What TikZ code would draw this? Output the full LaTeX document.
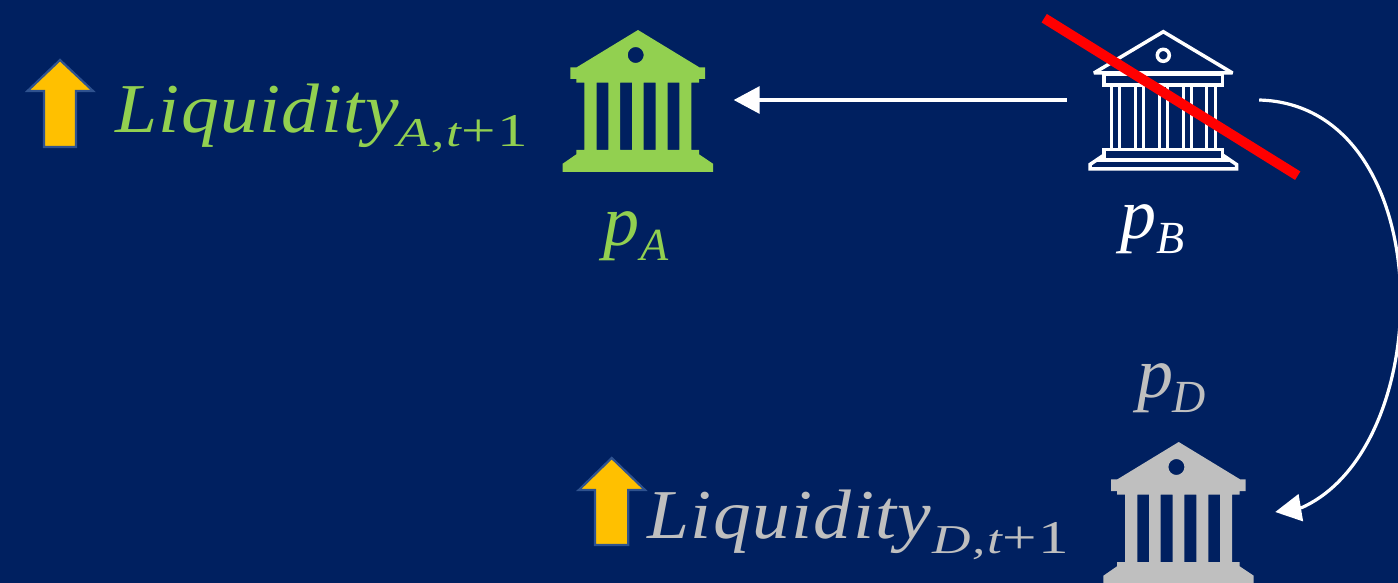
\documentclass[tikz,border=0pt]{standalone}
\usepackage{fontspec}
\setmainfont{Liberation Serif}
\newfontfamily\mainfam[FakeStretch=1.08,LetterSpace=2]{Liberation Serif}
\newfontfamily\subfam[FakeStretch=1.3,LetterSpace=4]{Liberation Serif}
\usetikzlibrary{arrows.meta}
\definecolor{navy}{HTML}{002060}
\definecolor{leaf}{HTML}{92D050}
\definecolor{ash}{HTML}{BFBFBF}
\definecolor{gold}{HTML}{FFC000}
\definecolor{goldedge}{HTML}{2F528F}
\newcommand{\solidbank}{%
  \fill[even odd rule]
    (0,0) -- (61.3,37.3) -- (67,37.3) -- (67,49) -- (61,49) -- (61,52.7) -- (53.3,52.7) -- (53.3,120)
    -- (61,120) -- (61,124.3) -- (75,133.7) -- (75,142) -- (-75.3,142) -- (-75.3,133.7)
    -- (-61.7,124.3) -- (-61.7,120) -- (-53.7,120) -- (-53.7,52.7) -- (-61.7,52.7)
    -- (-61.7,49) -- (-67.7,49) -- (-67.7,37.3) -- (-61.3,37.3) -- cycle
    (-2.3,25) circle[radius=8]
    (-41.3,52.7) rectangle (-29.7,120)
    (-18,52.7) rectangle (-6,120)
    (5.7,52.7) rectangle (17.7,120)
    (29.7,52.7) rectangle (41.3,120);}
\newcommand{\bigsum}{{\fontsize{47}{47}\selectfont +1}}
\tikzset{
  hub/.style={inner sep=0pt,minimum height=4pt},
  flow/.style={white,line width=3.2pt,line join=round,-{Triangle[length=26pt,width=27pt]}},
  uparrow/.style={fill=gold,draw=goldedge,line width=2.2pt,miter limit=10},
  mainlabel/.style={anchor=base west,inner sep=0pt,font=\mainfam\itshape\fontsize{70}{70}\selectfont},
  sublabel/.style={anchor=base west,inner sep=0pt,font=\subfam\fontsize{41}{41}\selectfont},
  plabel/.style={anchor=base west,inner sep=0pt,font=\fontsize{72}{72}\selectfont\itshape},
  psub/.style={anchor=base west,inner sep=0pt,font=\fontsize{46}{46}\selectfont\itshape},
}
\begin{document}
\begin{tikzpicture}[x=1pt,y=-1pt]
\useasboundingbox (0,0) rectangle (1398,583);
\fill[navy] (0,0) rectangle (1398,583);
\clip (0,0) rectangle (1398,583);
% anchors for the connectors
\node[hub,minimum width=191pt] (bankA) at (638,100) {};
\node[hub,minimum width=192pt] (bankB) at (1163,100) {};
\node[hub,minimum width=192pt] (bankD) at (1179,512) {};
\coordinate (headbase) at (1302,507.5);
% solid banks
\begin{scope}[shift={(638,30)},leaf]\solidbank\end{scope}
\begin{scope}[shift={(1178.7,442)},ash]\solidbank\end{scope}
% outline bank
\begin{scope}[white,line width=3.5pt,line join=miter]
\draw[miter limit=2] (1094,73) -- (1163.3,31.7) -- (1232.5,73) -- cycle;
\draw (1163.3,55.3) circle[radius=6];
\draw (1104,74) rectangle (1222.6,85);
\foreach \cx in {1111.7,1119.3,1135.7,1143.3,1159.3,1167,1183,1191,1206.7,1215}
  \draw[line width=3pt] (\cx,85) -- (\cx,149);
\draw (1104,149.5) rectangle (1222.6,159.7);
\draw[line width=4pt] (1096,159.7) -- (1230,159.7);
\draw (1104,155) -- (1090,164.5) -- (1090,169) -- (1236.5,169) -- (1236.5,164.5) -- (1222.6,155);
\end{scope}
% slash
\draw[red,line width=10pt] (1044.2,18.2) -- (1297.7,175.7);
% connectors
\draw[flow] (bankB.west) -- (bankA.east);
\draw[flow] (bankB.east) .. controls (1440,105) and (1440,445) .. (headbase) -- (bankD.east);
% up arrows
\draw[uparrow] (60,60) -- (93,91) -- (76,91) -- (76,147) -- (44,147) -- (44,91) -- (27.5,91) -- cycle;
\draw[uparrow] (611.7,458) -- (645,490) -- (628.3,490) -- (628.3,545) -- (595,545) -- (595,490) -- (578.8,490) -- cycle;
% labels
\node[mainlabel,text=leaf] (liqA) at (115,133) {Liquidity};
\node[sublabel,text=leaf] (subA) at (397,147) {{\itshape A,t}\bigsum};
\node[mainlabel,text=ash] (liqD) at (647,538) {Liquidity};
\node[sublabel,text=ash] (subD) at (932,553) {{\itshape D,t}\bigsum};
\node[plabel,text=leaf] (pa) at (603,245) {p};
\node[psub,text=leaf] (pas) at (640,260) {A};
\node[plabel,text=white] (pb) at (1120,238) {p};
\node[psub,text=white] (pbs) at (1156,253) {B};
\node[plabel,text=ash] (pd) at (1137,397) {p};
\node[psub,text=ash] (pds) at (1172,412) {D};
\end{tikzpicture}
\end{document}
